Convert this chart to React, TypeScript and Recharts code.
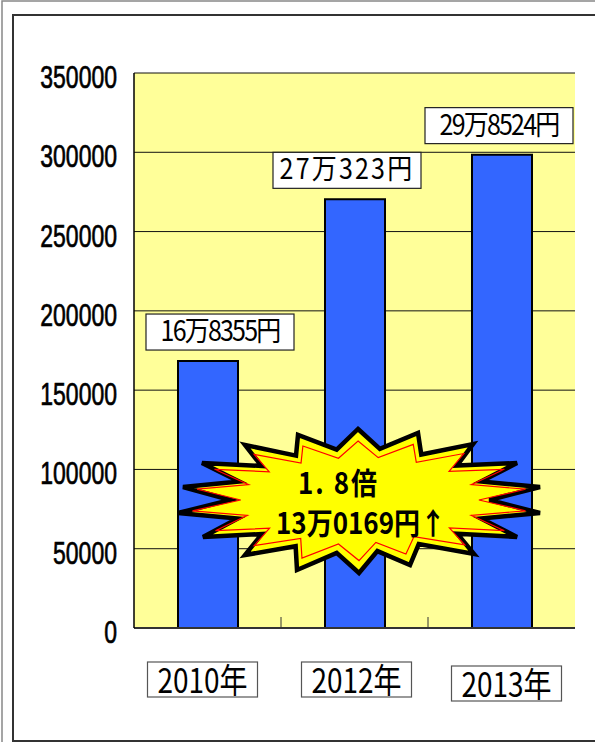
import { BarChart, Bar, XAxis, YAxis, CartesianGrid, LabelList } from 'recharts';

// values
const years = ['2010年', '2012年', '2013年'];
const amounts = [168355, 270323, 298524];
const amountLabels = ['16万8355円', '27万323円', '29万8524円'];
const yTicks = [0, 50000, 100000, 150000, 200000, 250000, 300000, 350000];
const bandEdges = [1, 2];
const burstLines = ['1. 8倍', '13万0169円↑'];

const data = years.map((year, i) => ({ year, amount: amounts[i], pos: i + 0.5 }));

// small hand tweaks so the boxes sit where the original put them
const labelShift = [12, -8, -3];
const labelSpacing = [-1.8, 2.2, -1.8];
const yearShift = [{ dx: -5, dy: 0 }, { dx: 2, dy: 0 }, { dx: 5, dy: 4 }];

const JP = "'Noto Sans CJK JP', 'Noto Sans', sans-serif";

function YTick({ x, y, payload }: any) {
    return (
        <text
            transform={`translate(${x},${y + 15}) scale(1,1.37)`}
            textAnchor="end"
            fontSize={23}
            fontFamily="'Liberation Sans', Arial, sans-serif"
            fill="#000"
            stroke="#000"
            strokeWidth={0.5}
        >
            {payload.value}
        </text>
    );
}

function YearTick({ x, y, payload, index }: any) {
    const s = yearShift[index] || { dx: 0, dy: 0 };
    const cx = Number(x) + s.dx;
    const top = Number(y) + 34 + s.dy;
    return (
        <g>
            <rect x={cx - 55} y={top} width={110} height={35} fill="#fff" stroke="#555" strokeWidth={1.2} />
            <text
                transform={`translate(${cx},${top + 31}) scale(1,1.2)`}
                textAnchor="middle"
                fontSize={28}
                fontFamily={JP}
                fill="#000"
            >
                {payload.value}
            </text>
        </g>
    );
}

function AmountLabel({ x, y, width, index }: any) {
    const cx = Number(x) + Number(width) / 2 + labelShift[index];
    const bottom = Number(y) - 11;
    return (
        <g>
            <rect x={cx - 74} y={bottom - 36} width={148} height={36} fill="#fff" stroke="#222" strokeWidth={1.2} />
            <text
                transform={`translate(${cx},${bottom - 9}) scale(1,1.15)`}
                textAnchor="middle"
                fontSize={25}
                fontFamily={JP}
                letterSpacing={labelSpacing[index]}
                fill="#000"
            >
                {amountLabels[index]}
            </text>
        </g>
    );
}

// starburst outline (peaks around its centre), valleys pulled in between them
const burstCx = 359;
const burstCy = 500;
const burstPeaks = [
    [-1, -71], [59, -67], [114, -56], [158, -37], [181, -13], [181, 13], [158, 37], [115, 54], [51, 65],
    [0, 73], [-62, 70], [-114, 55], [-156, 37], [-181, 13], [-176, -13], [-157, -37], [-114, -55], [-61, -65],
];

function burstPath(sx: number, sy: number) {
    const pts: string[] = [];
    burstPeaks.forEach((p, i) => {
        const n = burstPeaks[(i + 1) % burstPeaks.length];
        pts.push(`${burstCx + p[0] * sx},${burstCy + p[1] * sy}`);
        const vx = ((p[0] + n[0]) / 2) * 0.72;
        const vy = ((p[1] + n[1]) / 2) * 0.74;
        pts.push(`${burstCx + vx * sx},${burstCy + vy * sy}`);
    });
    return pts.join(' ');
}

export default function App() {
    return (
        <div style={{ position: 'absolute', left: 0, top: 0, width: 595, height: 742, background: '#fff', overflow: 'hidden' }}>
            {/* page frames */}
            <svg width={595} height={742} style={{ position: 'absolute', left: 0, top: 0 }}>
                <polyline points="2,742 2,1 595,1" fill="none" stroke="#888" strokeWidth={1.5} />
                <rect x={13} y={15} width={620} height={726} fill="none" stroke="#333" strokeWidth={2} />
            </svg>

            <div style={{ position: 'absolute', left: 0, top: 0 }}>
                <BarChart width={595} height={742} data={data} margin={{ top: 73, right: 20, bottom: 34, left: 0 }} barSize={60}>
                    <CartesianGrid vertical={false} fill="#FFFF99" fillOpacity={1} stroke="#111" strokeWidth={1} />
                    <XAxis
                        dataKey="year"
                        height={80}
                        axisLine={{ stroke: '#333', strokeWidth: 2 }}
                        tickLine={false}
                        tickSize={0}
                        tickMargin={0}
                        tick={<YearTick />}
                        interval={0}
                    />
                    <XAxis
                        xAxisId="edges"
                        type="number"
                        dataKey="pos"
                        domain={[0, 3]}
                        ticks={bandEdges}
                        mirror
                        height={11}
                        tickSize={11}
                        axisLine={false}
                        tickLine={{ stroke: '#333' }}
                        tick={() => <g />}
                    />
                    <YAxis
                        width={134}
                        domain={[0, 350000]}
                        ticks={yTicks}
                        interval={0}
                        axisLine={{ stroke: '#000', strokeWidth: 1.5 }}
                        tickLine={false}
                        tickSize={0}
                        tickMargin={17}
                        tick={<YTick />}
                    />
                    <YAxis
                        yAxisId="frame"
                        orientation="right"
                        width={0}
                        domain={[0, 350000]}
                        axisLine={{ stroke: '#555', strokeWidth: 2 }}
                        tickLine={false}
                        tick={false}
                    />
                    <Bar dataKey="amount" fill="#3366FF" stroke="#000" strokeWidth={2} isAnimationActive={false}>
                        <LabelList dataKey="amount" content={<AmountLabel />} />
                    </Bar>
                </BarChart>
            </div>

            {/* the "1.8倍" burst */}
            <svg width={595} height={742} style={{ position: 'absolute', left: 0, top: 0, pointerEvents: 'none' }}>
                <polygon points={burstPath(1, 1)} fill="#FFFF00" stroke="#000" strokeWidth={4.5} strokeLinejoin="miter" />
                <polygon points={burstPath(0.92, 0.83)} fill="none" stroke="#FF0000" strokeWidth={1.2} />
                <text transform="translate(298,494) scale(1,1.15)" fontSize={26} fontWeight="bold" fontFamily={JP} letterSpacing={2} fill="#000">
                    {burstLines[0]}
                </text>
                <text transform="translate(276,534) scale(1,1.15)" fontSize={26} fontWeight="bold" fontFamily={JP} fill="#000">
                    {burstLines[1]}
                </text>
            </svg>
        </div>
    );
}
